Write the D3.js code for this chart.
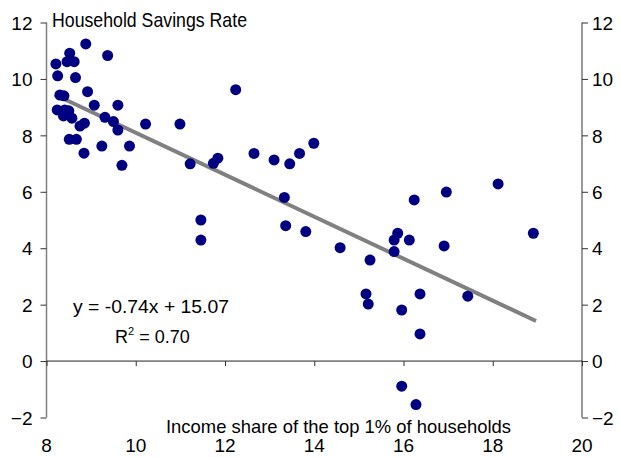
<!DOCTYPE html>
<html>
<head>
<meta charset="utf-8">
<script src="https://cdn.jsdelivr.net/npm/d3@7"></script>
<style>
body{margin:0;background:#fff}
text{font-family:"Liberation Sans",Arial,sans-serif;fill:#000}
</style>
</head>
<body>
<div id="chart"></div>
<script>
// income share of top 1% (x) vs household savings rate (y)
var incomeShare = [8.21,8.25,8.52,8.46,8.62,8.88,9.37,8.65,8.30,8.39,8.92,8.24,8.41,8.50,8.38,8.57,
  9.07,9.60,9.31,9.50,9.60,8.85,8.75,8.51,8.67,8.84,9.24,9.86,9.69,10.22,10.99,11.22,11.74,11.84,
  12.24,12.65,13.10,13.45,13.67,13.99,13.33,11.46,11.46,13.36,13.81,14.58,15.25,15.79,15.87,15.79,
  16.13,16.24,16.96,18.12,18.91,16.91,15.16,15.21,15.96,16.37,17.44,16.37,15.96,16.28]
var savingsRate = [10.53,10.11,10.91,10.61,10.61,11.24,10.83,10.05,9.43,9.40,9.55,8.90,8.90,8.87,8.69,8.61,
  9.07,9.07,8.64,8.49,8.19,8.43,8.33,7.86,7.86,7.37,7.62,7.62,6.94,8.40,8.40,6.99,7.01,7.19,
  9.62,7.36,7.13,6.99,7.36,7.72,5.80,5.00,4.29,4.80,4.59,4.02,3.58,4.29,4.53,3.88,
  4.29,5.71,5.99,6.28,4.53,4.08,2.38,2.02,1.81,2.38,2.30,0.96,-0.89,-1.54]

// trend line ends as drawn
var trendX = [8.19, 18.97]
var trendY = [9.44, 1.42]

var xTicks = [8,10,12,14,16,18,20]
var yTicks = [-2,0,2,4,6,8,10,12]

var width = 621, height = 457
var svg = d3.select("#chart").append("svg")
  .attr("width",width).attr("height",height)

var x = d3.scaleLinear().domain([8,20]).range([46.5,582])
var y = d3.scaleLinear().domain([-2,12]).range([417.5,22.5])

// narrow font look: squeeze glyphs to the width seen in the original
function squeeze(sel,len){
  sel.attr("textLength",len).attr("lengthAdjust","spacingAndGlyphs")
}

// left axis
svg.append("g")
  .attr("transform","translate("+x(8)+",0)")
  .call(d3.axisLeft(y).tickValues(yTicks).tickSize(6).tickPadding(8).tickFormat(d3.format("d")))
  .call(function(g){
    g.select(".domain").attr("stroke","#808080").attr("stroke-width",1.5).attr("d","M0,"+y(12)+"V"+y(-2))
    g.selectAll(".tick line").attr("stroke","#333")
    g.selectAll(".tick text").style("font-size","19px").attr("dy","0.35em")
  })

// right axis
svg.append("g")
  .attr("transform","translate("+x(20)+",0)")
  .call(d3.axisRight(y).tickValues(yTicks).tickSize(6).tickPadding(4).tickFormat(d3.format("d")))
  .call(function(g){
    g.select(".domain").attr("stroke","#333").attr("d","M0,"+y(12)+"V"+y(-2))
    g.selectAll(".tick line").attr("stroke","#333")
    g.selectAll(".tick text").style("font-size","19px").attr("dy","0.35em")
  })

// x axis sits on zero, labels at the bottom
svg.append("g")
  .attr("transform","translate(0,"+y(0)+")")
  .call(d3.axisBottom(x).tickValues(xTicks).tickSize(5).tickFormat(""))
  .call(function(g){
    g.select(".domain").attr("stroke","#222").attr("d","M"+x(8)+",0H"+x(20))
    g.selectAll(".tick line").attr("stroke","#333")
  })

svg.selectAll(".xlab")
  .data(xTicks)
  .enter()
  .append("text")
  .attr("class","xlab")
  .text(function(d){return d})
  .attr("x",function(d){return x(d)})
  .attr("y",452)
  .attr("text-anchor","middle")
  .style("font-size","19px")

// trend line
svg.append("path")
  .datum(d3.zip(trendX,trendY))
  .attr("fill","none")
  .attr("stroke","#808080")
  .attr("stroke-width",4)
  .attr("d",d3.line().x(function(d){return x(d[0])}).y(function(d){return y(d[1])}))

// points
svg.selectAll(".dot")
  .data(d3.zip(incomeShare,savingsRate))
  .enter()
  .append("circle")
  .attr("class","dot")
  .attr("cx",function(d){return x(d[0])})
  .attr("cy",function(d){return y(d[1])})
  .attr("r",5.5)
  .attr("fill","#000080")

svg.append("text").text("Household Savings Rate")
  .attr("x",52).attr("y",27).style("font-size","21px")
  .call(squeeze,195)

svg.append("text").text("Income share of the top 1% of households")
  .attr("x",166).attr("y",433).style("font-size","19px")
  .call(squeeze,345)

svg.append("text").text("y = -0.74x + 15.07")
  .attr("x",73).attr("y",313).style("font-size","18px")
  .call(squeeze,156)

var r2 = svg.append("text").attr("x",115).attr("y",343).style("font-size","18px")
r2.append("tspan").text("R")
r2.append("tspan").text("2").attr("dy","-8").style("font-size","11px")
r2.append("tspan").text(" = 0.70").attr("dy","8")
</script>
</body>
</html>
